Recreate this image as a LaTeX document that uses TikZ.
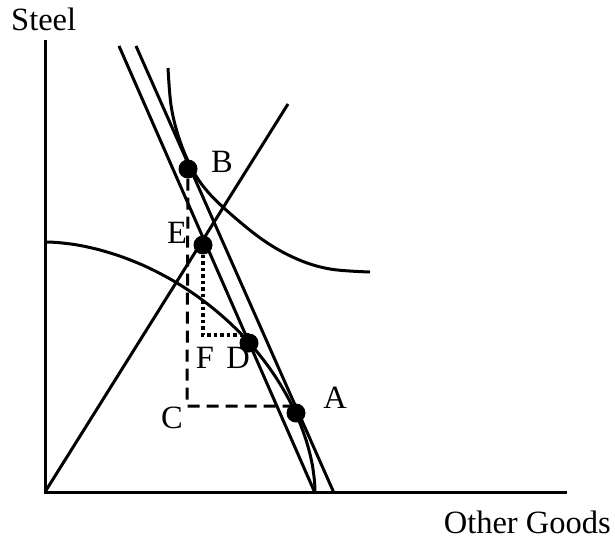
\documentclass[tikz,border=0pt]{standalone}
\usepackage{fontspec}
\setmainfont{Liberation Serif}
\begin{document}
\begin{tikzpicture}[x=1pt,y=-1pt,
  curve/.style={line width=3pt},
  pt/.style={circle,fill=black,inner sep=0pt,minimum size=19pt},
  lbl/.style={anchor=base,inner sep=0pt,font=\fontsize{32.5}{38}\selectfont},
  dashedline/.style={line width=3pt,dash pattern=on 12pt off 7pt},
  dottedline/.style={line width=3.5pt,dash pattern=on 3.5pt off 3pt}]
\useasboundingbox (0,0) rectangle (615,548);
% axes
\coordinate (O) at (45,492);
\coordinate (Ytop) at (45,40);
\coordinate (Xend) at (567,492);
\draw[curve] (Ytop) -- (O) -- (Xend);
% price lines
\coordinate (L1a) at (119,46);
\coordinate (L1b) at (315,493);
\coordinate (L2a) at (136,46);
\coordinate (L2b) at (334,493);
\draw[curve] (L1a) -- (L1b);
\draw[curve] (L2a) -- (L2b);
% ray from origin
\coordinate (R) at (288,104);
\draw[curve] (O) -- (R);
% production possibility frontier
\draw[curve] (45,242) -- plot[domain=89.5:0.5,samples=90,variable=\t]
  ({45+270*pow(cos(\t),1.1111)},{492-250*pow(sin(\t),1.1111)}) -- (315,492);
% indifference curve
\draw[curve] plot[smooth,tension=0.6] coordinates {(168,68) (171,105) (178,135) (189,163) (203,186) (225,209) (263,240) (297,259) (330,269) (370,272)};
% points
\node[pt] (B) at (188,169) {};
\node[pt] (E) at (203,245) {};
\node[pt] (D) at (249,343) {};
\node[pt] (A) at (296,413) {};
\coordinate (C) at (187,406);
\coordinate (F) at (203,335);
% dashed and dotted guides
\draw[dashedline] (B) -- (C) -- (C -| A);
\draw[dottedline] (E) -- (F) -- (F -| D);
% labels
\node[lbl] (lB) at (222,172) {B};
\node[lbl] (lE) at (177,243) {E};
\node[lbl] (lF) at (205,368) {F};
\node[lbl] (lD) at (238,368) {D};
\node[lbl] (lC) at (172,428) {C};
\node[lbl] (lA) at (335,408) {A};
\node[lbl,anchor=base west] (lS) at (11,31) {Steel};
\node[lbl,anchor=base east] (lX) at (611,533) {Other Goods};
\end{tikzpicture}
\end{document}
